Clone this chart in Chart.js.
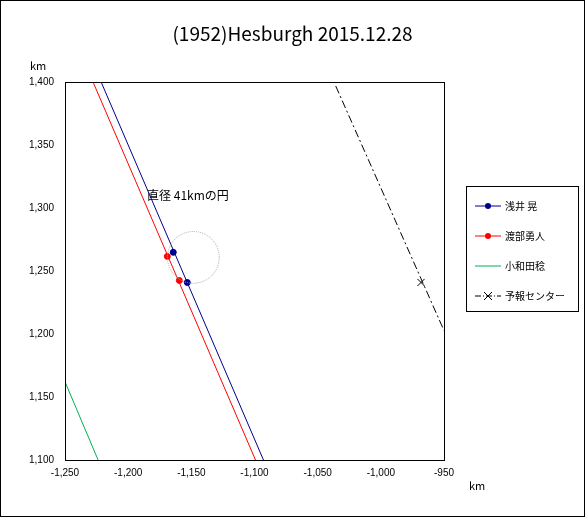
<!DOCTYPE html>
<html><head><meta charset="utf-8">
<script src="https://cdn.jsdelivr.net/npm/chart.js@4/dist/chart.umd.min.js"></script>
<style>
body{margin:0;background:#fff;font-family:"Noto Sans CJK JP",sans-serif}
#wrap{position:relative;width:583px;height:515px;border:1px solid #000}
#title{position:absolute;top:18px;left:0;width:583px;text-align:center;font-size:19px}
.km{position:absolute;font-size:11px}
#leg{position:absolute;left:465px;top:185px;width:111px;height:124px;border:1px solid #000;font-size:10px}
.li{position:absolute;left:8px;height:14px}
.li span{position:absolute;left:30px;top:-1px;white-space:nowrap}
</style></head><body>
<div id="wrap">
<canvas id="grafica" width="583" height="515"></canvas>
<div id="title">(1952)Hesburgh 2015.12.28</div>
<div class="km" style="left:29px;top:56px">km</div>
<div class="km" style="left:468px;top:476px">km</div>
<div id="leg"></div>
</div>
<script>
var nombres = ['浅井 晃','渡部勇人','小和田稔','予報センター'];
var colores = ['#00008b','#ff0000','#00b050','#000000'];

var lineaAsai = [{x:-1221.4,y:1400},{x:-1092.9,y:1100}];
var puntosAsai = [{x:-1164.3,y:1264.8},{x:-1153.2,y:1240.9}];
var lineaWatabe = [{x:-1227.8,y:1400},{x:-1099.2,y:1100}];
var puntosWatabe = [{x:-1169.0,y:1261.6},{x:-1159.5,y:1242.5}];
var lineaOwada = [{x:-1250,y:1162.1},{x:-1223.8,y:1100}];
var lineaCentro = [{x:-1035.7,y:1396.8},{x:-950,y:1202.7}];
var puntoCentro = [{x:-968.2,y:1240.9}];
var circulo = {x:-1148.4,y:1260.8,diametro:41};

var leg = document.getElementById('leg');
nombres.forEach(function(n,i){
  var top = 12+i*30;
  var d = document.createElement('div'); d.className='li'; d.style.top=top+'px';
  var linea = i==3 ? '<line x1="0" y1="7" x2="26" y2="7" stroke="#000" stroke-dasharray="6,2,1,2"/><path d="M9 3l8 8M17 3l-8 8" stroke="#000"/>'
    : '<line x1="0" y1="7" x2="26" y2="7" stroke="'+colores[i]+'"/>' + (i<2?'<circle cx="13" cy="7" r="3" fill="'+colores[i]+'"/>':'');
  d.innerHTML = '<svg width="27" height="14" style="position:absolute;left:0;top:0">'+linea+'</svg><span>'+n+'</span>';
  leg.appendChild(d);
});

var pluginCirculo = {
  id:'circulo',
  afterDatasetsDraw: function(c){
    var ctx=c.ctx, xs=c.scales.x, ys=c.scales.y;
    var cx=xs.getPixelForValue(circulo.x), cy=ys.getPixelForValue(circulo.y);
    var r=Math.abs(xs.getPixelForValue(circulo.x+circulo.diametro/2)-cx);
    ctx.save(); ctx.strokeStyle='#aaa'; ctx.lineWidth=1; ctx.setLineDash([1,1]);
    ctx.beginPath(); ctx.arc(cx,cy,r,0,Math.PI*2); ctx.stroke();
    ctx.setLineDash([]); ctx.fillStyle='#000'; ctx.font='12px "Noto Sans CJK JP"';
    ctx.fillText('直径 41kmの円', xs.getPixelForValue(-1185), ys.getPixelForValue(1306));
    ctx.restore();
  }
};

function ds(data,color,extra){
  return Object.assign({data:data,borderColor:color,backgroundColor:color,showLine:true,borderWidth:1,pointRadius:0},extra||{});
}

var chart = new Chart(grafica,{
  type:'scatter',
  data:{datasets:[
    ds(lineaAsai,colores[0]),
    ds(puntosAsai,colores[0],{showLine:false,pointRadius:3}),
    ds(lineaWatabe,colores[1]),
    ds(puntosWatabe,colores[1],{showLine:false,pointRadius:3}),
    ds(lineaOwada,colores[2]),
    ds(lineaCentro,colores[3],{borderDash:[8,3,2,3]}),
    ds(puntoCentro,colores[3],{showLine:false,pointRadius:5,pointStyle:'cross',rotation:45})
  ]},
  options:{
    responsive:false,animation:false,
    layout:{padding:{top:81,right:140,left:0,bottom:0}},
    plugins:{legend:{display:false},tooltip:{enabled:false}},
    scales:{
      x:{min:-1250,max:-950,ticks:{stepSize:50,color:'#000',font:{size:10}},
         grid:{display:false,drawTicks:true,tickLength:4},border:{color:'#000'},
         afterFit:function(s){s.height=56;}},
      y:{min:1100,max:1400,ticks:{stepSize:50,color:'#000',font:{size:10}},
         grid:{display:false},border:{color:'#000'},
         afterFit:function(s){s.width=64;}}
    }
  },
  plugins:[pluginCirculo,{id:'marco',afterDraw:function(c){var a=c.chartArea,x=c.ctx;x.save();x.strokeStyle='#000';x.strokeRect(a.left+.5,a.top+.5,a.right-a.left,a.bottom-a.top);x.restore();}}]
});
</script>
</body></html>
